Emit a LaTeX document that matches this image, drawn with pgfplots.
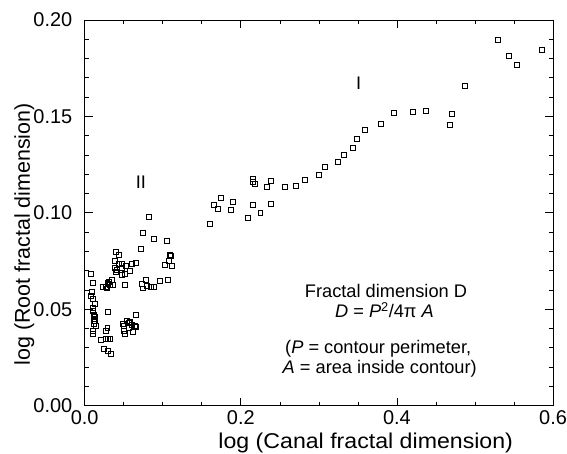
\documentclass[border=0pt]{standalone}
\usepackage{pgfplots}
\pgfplotsset{compat=1.18}
\usepackage{fontspec}
\setmainfont{Liberation Sans}
\begin{document}
\begin{tikzpicture}
\begin{axis}[
  scale only axis, width=470bp, height=387bp,
  xmin=0, xmax=0.6, ymin=0, ymax=0.2,
  xtick={0,0.2,0.4,0.6}, ytick={0,0.05,0.1,0.15,0.2},
  xticklabels={0.0,0.2,0.4,0.6},
  yticklabels={0.00,0.05,0.10,0.15,0.20},
  minor x tick num=3, minor y tick num=4,
  tick align=inside,
  major tick length=8bp, minor tick length=4bp,
  axis line style={line width=0.8pt},
  tick style={line width=0.7pt, black},
  ticklabel style={font=\fontsize{20bp}{24bp}\selectfont},
  xticklabel style={yshift=-2bp},
  yticklabel style={xshift=-9bp},
  xlabel={log (Canal fractal dimension)},
  ylabel={log (Root fractal dimension)},
  label style={font=\fontsize{21.5bp}{25bp}\selectfont},
  xlabel style={at={(axis description cs:0.6,-0.111)}, anchor=base, xscale=1.08},
  ylabel style={at={(axis description cs:-0.117,0.444)}, anchor=base},
  clip=false,
]
\addplot[only marks, mark=square, mark size=2.5pt, mark options={line width=0.7pt, black}] table {
x y
0.008 0.0682
0.011 0.0637
0.009 0.0588
0.008 0.0567
0.010 0.0551
0.013 0.0527
0.010 0.0508
0.011 0.0490
0.012 0.0470
0.013 0.0460
0.012 0.0450
0.013 0.0440
0.012 0.0425
0.014 0.0412
0.011 0.0389
0.011 0.0372
0.030 0.0484
0.029 0.0405
0.027 0.0386
0.021 0.0343
0.027 0.0345
0.030 0.0345
0.032 0.0346
0.025 0.0296
0.030 0.0286
0.033 0.0269
0.066 0.0470
0.049 0.0422
0.050 0.0412
0.054 0.0440
0.057 0.0427
0.060 0.0419
0.058 0.0433
0.065 0.0410
0.056 0.0401
0.050 0.0389
0.051 0.0374
0.062 0.0381
0.064 0.0415
0.082 0.0978
0.074 0.0897
0.089 0.0867
0.105 0.0853
0.072 0.0813
0.040 0.0797
0.044 0.0780
0.039 0.0751
0.044 0.0737
0.047 0.0737
0.039 0.0715
0.041 0.0705
0.040 0.0695
0.048 0.0712
0.053 0.0725
0.060 0.0736
0.065 0.0739
0.058 0.0699
0.052 0.0684
0.047 0.0679
0.109 0.0780
0.110 0.0774
0.108 0.0750
0.103 0.0729
0.112 0.0724
0.035 0.0653
0.031 0.0642
0.029 0.0635
0.032 0.0628
0.030 0.0630
0.0235 0.0617
0.027 0.0618
0.028 0.0608
0.036 0.0624
0.052 0.0627
0.073 0.0629
0.078 0.0651
0.075 0.0608
0.080 0.0619
0.085 0.0617
0.088 0.0615
0.096 0.0646
0.106 0.0650
0.160 0.0942
0.165 0.1039
0.170 0.1020
0.174 0.1077
0.187 0.1015
0.190 0.1058
0.209 0.0973
0.216 0.1040
0.225 0.1001
0.238 0.1046
0.216 0.1175
0.215 0.1159
0.218 0.1149
0.239 0.1164
0.233 0.1135
0.256 0.1133
0.270 0.1140
0.282 0.1173
0.300 0.1195
0.308 0.1240
0.324 0.1263
0.332 0.1299
0.344 0.1337
0.349 0.1383
0.359 0.1430
0.379 0.1463
0.396 0.1516
0.421 0.1521
0.437 0.1530
0.470 0.1511
0.468 0.1454
0.487 0.1659
0.529 0.1897
0.543 0.1816
0.554 0.1766
0.586 0.1843
};
\begin{scope}[every node/.style={font=\fontsize{18.3bp}{22bp}\selectfont}]
\node at (axis cs:0.351,0.167) {I};
\node at (axis cs:0.072,0.116) {II};
\node at (axis cs:0.386,0.0594) {Fractal dimension D};
\node at (axis cs:0.384,0.0496) {\textit{D} = \textit{P}\textsuperscript{2}/4π \textit{A}};
\node at (axis cs:0.376,0.0295) {(\textit{P} = contour perimeter,};
\node at (axis cs:0.378,0.0191) {\textit{A} = area inside contour)};
\end{scope}
\end{axis}
\pgfresetboundingbox
\path[use as bounding box] ([xshift=-85bp,yshift=-48bp]current axis.south west) rectangle ([xshift=14bp,yshift=20bp]current axis.north east);
\end{tikzpicture}
\end{document}
